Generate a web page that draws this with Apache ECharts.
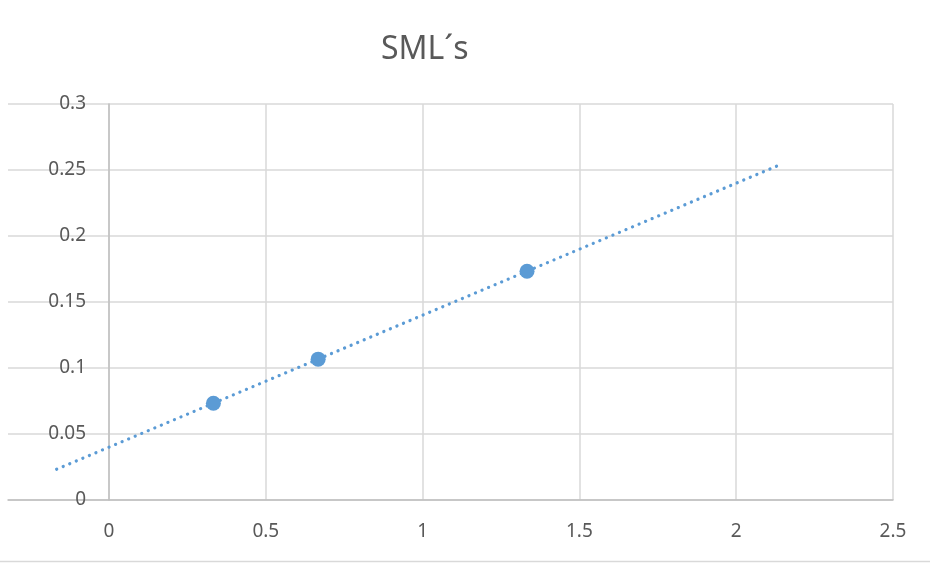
<!DOCTYPE html>
<html><head><meta charset="utf-8">
<script src="https://cdn.jsdelivr.net/npm/echarts@6/dist/echarts.min.js"></script>
<style>html,body{margin:0;padding:0;background:#fff}#c{width:930px;height:563px}</style>
</head><body><div id="c"></div>
<script>
var titleText = 'SML´s';
var pointsX = [0.333, 0.667, 1.333];
var pointsY = [0.0733, 0.1067, 0.1733];
var trendX = [-0.167, 2.133];
var trendY = [0.0233, 0.2533];
var xTicks = [0, 0.5, 1, 1.5, 2, 2.5];
var yTicks = [0, 0.05, 0.1, 0.15, 0.2, 0.25, 0.3];

var font = 'Noto Sans';
var txt = '#595959';
var chart = echarts.init(document.getElementById('c'));
chart.setOption({
  animation: false,
  backgroundColor: '#fff',
  title: {text: titleText, left: 376, top: 29, textStyle: {fontFamily: font, fontSize: 32, fontWeight: 'normal', color: txt}},
  grid: [
    {left: 8, right: 37, top: 104, bottom: 63},
    {left: 109, right: 37, top: 104, bottom: 63}
  ],
  xAxis: [
    {gridIndex: 0, type: 'value', min: -0.322, max: 2.5,
     axisLine: {show: true, onZero: true, lineStyle: {color: '#bfbfbf', width: 1.5}},
     axisTick: {show: false}, axisLabel: {show: false}, splitLine: {show: false}},
    {gridIndex: 1, type: 'value', min: xTicks[0], max: xTicks[xTicks.length-1], interval: 0.5,
     axisLine: {show: false}, axisTick: {show: false},
     axisLabel: {margin: 22, fontFamily: font, fontSize: 19, color: txt},
     splitLine: {show: true, lineStyle: {color: '#d9d9d9', width: 1.5}}}
  ],
  yAxis: [
    {gridIndex: 0, type: 'value', min: yTicks[0], max: yTicks[yTicks.length-1], interval: 0.05,
     axisLine: {show: false}, axisTick: {show: false}, axisLabel: {show: false},
     splitLine: {show: true, lineStyle: {color: '#d9d9d9', width: 1.5}}},
    {gridIndex: 1, type: 'value', min: yTicks[0], max: yTicks[yTicks.length-1], interval: 0.05,
     axisLine: {show: true, lineStyle: {color: '#bfbfbf', width: 1.5}}, axisTick: {show: false},
     axisLabel: {margin: 23, fontFamily: font, fontSize: 19, color: txt},
     splitLine: {show: false}}
  ],
  series: [
    {type: 'line', xAxisIndex: 0, yAxisIndex: 0, symbol: 'none', silent: true, z: 3,
     data: trendX.map(function(x, i){return [x, trendY[i]];}),
     lineStyle: {color: '#5b9bd5', width: 3.2, type: [0.1, 7], cap: 'round'}},
    {type: 'scatter', xAxisIndex: 0, yAxisIndex: 0, symbol: 'circle', symbolSize: 15, z: 4,
     itemStyle: {color: '#5b9bd5', opacity: 1},
     data: pointsX.map(function(x, i){return [x, pointsY[i]];})}
  ],
  graphic: [
    {type: 'line', shape: {x1: 0, y1: 561.5, x2: 930, y2: 561.5}, style: {stroke: '#d9d9d9', lineWidth: 1.5}}
  ]
});
</script></body></html>
